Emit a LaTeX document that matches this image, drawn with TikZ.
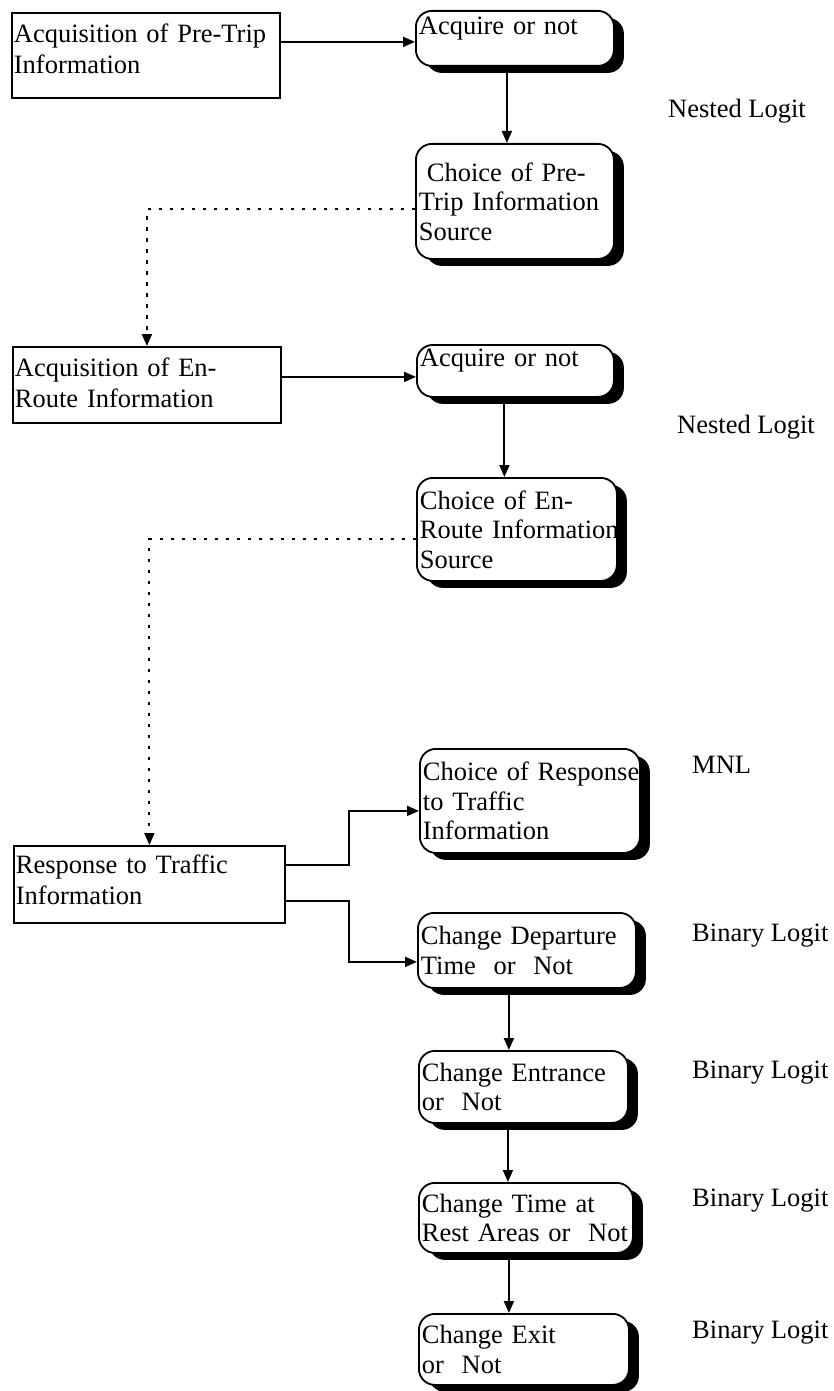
\documentclass[tikz,border=0pt]{standalone}
\usepackage{fontspec}
\setmainfont{Liberation Serif}
\usetikzlibrary{arrows.meta,shadows}

\begin{document}
\hyphenpenalty=10000
\exhyphenpenalty=10000
\begin{tikzpicture}[x=1pt,y=-1pt,
  txt/.style={font=\fontsize{26.5}{31}\selectfont},
  rtxt/.style={font=\fontsize{26.5}{29.5}\selectfont},
  base/.style={align=left, anchor=north west, line width=1.8pt, draw=black},
  plainbox/.style={base, txt, rectangle, inner xsep=2pt, inner ysep=2pt},
  roundbox/.style={base, rtxt, rectangle, rounded corners=16pt, fill=white,
    inner xsep=3pt, inner ysep=2pt,
    drop shadow={shadow xshift=10pt, shadow yshift=-7pt, fill=black, opacity=1}},
  arr/.style={line width=1.9pt, -{Triangle[length=12pt,width=10pt]}},
  dotarr/.style={arr, line width=2.1pt, dash pattern=on 3.5pt off 7.5pt},
  lbl/.style={txt, anchor=base west, inner sep=0pt}]

% canvas
\fill[white] (0,0) rectangle (833,1391);
\useasboundingbox (0,0) rectangle (833,1391);

% ---- pre-trip stage ----
\node[plainbox, minimum width=268pt, minimum height=85pt, text width=264pt]
  (B1) at (11,12) {Acquisition of Pre-Trip\\Information\\[-18pt]\mbox{}};
\node[roundbox, minimum width=198pt, minimum height=55pt, text width=192pt]
  (A1) at (415,10) {Acquire or not\\[-4pt]\mbox{}};
\node[roundbox, minimum width=198pt, minimum height=115pt, text width=192pt]
  (C1) at (415,143) {\hspace*{0.3em}Choice of Pre-\\Trip~Information\\Source};

% ---- en-route stage ----
\node[plainbox, minimum width=268pt, minimum height=76pt, text width=264pt]
  (B2) at (12,346) {Acquisition of En-\\Route Information\\[-26pt]\mbox{}};
\node[roundbox, minimum width=197pt, minimum height=52pt, text width=191pt]
  (A2) at (416,344) {Acquire or not\\[-4pt]\mbox{}};
\node[roundbox, minimum width=200pt, minimum height=103pt, text width=194pt]
  (C2) at (416,477) {Choice of En-\\\mbox{Route Information}\\Source};

% ---- response stage ----
\node[plainbox, minimum width=271pt, minimum height=77pt, text width=267pt]
  (R) at (13,845) {Response to Traffic\\Information\\[-22pt]\mbox{}};
\node[roundbox, minimum width=220pt, minimum height=104pt, text width=214pt]
  (CR) at (419,748) {\mbox{Choice of Response}\\to Traffic\\Information};
\node[roundbox, minimum width=218pt, minimum height=75pt, text width=212pt]
  (CD) at (417,912) {\mbox{Change Departure}\\Time\ \ or\ \ Not};
\node[roundbox, minimum width=209pt, minimum height=72pt, text width=203pt]
  (CE) at (418,1050) {\mbox{Change Entrance}\\or\ \ Not};
\node[roundbox, minimum width=214pt, minimum height=70pt, text width=208pt]
  (CT) at (418,1182) {Change Time at\\\mbox{Rest Areas or\ \ Not}};
\node[roundbox, minimum width=210pt, minimum height=71pt, text width=204pt]
  (CX) at (418,1313) {Change Exit\\or\ \ Not};

% ---- model labels ----
\node[lbl] (nl1) at (668,118) {Nested Logit};
\node[lbl] (nl2) at (677,433) {Nested Logit};
\node[lbl] (mnl) at (692,773) {MNL};
\node[lbl] (bl1) at (692,941) {Binary Logit};
\node[lbl] (bl2) at (692,1078) {Binary Logit};
\node[lbl] (bl3) at (692,1206) {Binary Logit};
\node[lbl] (bl4) at (692,1338) {Binary Logit};

% ---- connectors ----
\draw[arr] ([yshift=-3.5pt]A1.west -| B1.east) -- ([yshift=-3.5pt]A1.west);
\draw[arr] ([xshift=-8pt]A1.south) -- ([xshift=-8pt]A1.south |- C1.north);
\draw[dotarr] ([yshift=-8pt]C1.west) -| (B2.north);

\draw[arr] ([yshift=-6pt]A2.west -| B2.east) -- ([yshift=-6pt]A2.west);
\draw[arr] ([xshift=-11pt]A2.south) -- ([xshift=-11pt]A2.south |- C2.north);
\draw[dotarr] ([yshift=-10pt]C2.west) -| (R.north);

\draw[arr] ([yshift=19.5pt]R.east) -- ++(63,0) |- ([yshift=-10pt]CR.west);
\draw[arr] ([yshift=-16.5pt]R.east) -- ++(63,0) |- ([yshift=-11.5pt]CD.west);

\draw[arr] ([xshift=-18pt]CD.south) -- ([xshift=-18pt]CD.south |- CE.north);
\draw[arr] ([xshift=-15.5pt]CE.south) -- ([xshift=-15.5pt]CE.south |- CT.north);
\draw[arr] ([xshift=-17pt]CT.south) -- ([xshift=-17pt]CT.south |- CX.north);
\end{tikzpicture}
\end{document}
